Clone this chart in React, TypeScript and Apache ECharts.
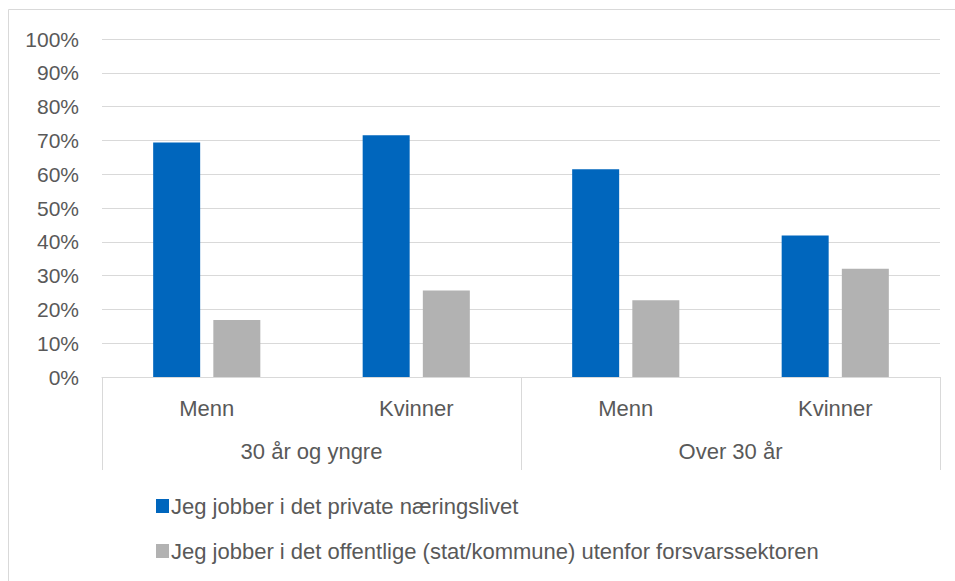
import React, { useEffect, useRef } from "react";
import * as echarts from "echarts";

const genders = ["Menn", "Kvinner", "Menn", "Kvinner"];
const ageGroups = ["30 år og yngre", "Over 30 år"];
const yTicks = [0, 10, 20, 30, 40, 50, 60, 70, 80, 90, 100];
const seriesNames = [
  "Jeg jobber i det private næringslivet",
  "Jeg jobber i det offentlige (stat/kommune) utenfor forsvarssektoren",
];
const privateValues = [69.4, 71.5, 61.5, 41.9];
const publicValues = [16.9, 25.6, 22.7, 32.0];

const FONT = "'Liberation Sans', Arial, sans-serif";
const TEXT = "#595959";
const LINE = "#d9d9d9";

export default function App() {
  const ref = useRef<HTMLDivElement>(null);
  useEffect(() => {
    if (!ref.current) return;
    const chart = echarts.init(ref.current, undefined, { renderer: "svg" });
    chart.setOption({
      animation: false,
      backgroundColor: "#ffffff",
      textStyle: { fontFamily: FONT, color: TEXT },
      graphic: [
        {
          type: "rect",
          shape: { x: 8.5, y: 9.5, width: 1200, height: 1200 },
          style: { fill: "none", stroke: LINE, lineWidth: 1 },
          silent: true,
        },
      ],
      grid: { left: 102, right: 15, top: 39, bottom: 204 },
      legend: {
        orient: "vertical",
        left: 151,
        top: 490,
        itemWidth: 13,
        itemHeight: 14,
        itemGap: 23,
        icon: "rect",
        data: seriesNames,
        textStyle: {
          fontFamily: FONT,
          fontSize: 22,
          color: TEXT,
          padding: [0, 0, 0, -3],
          lineHeight: 22,
        },
      },
      xAxis: [
        {
          type: "category",
          data: genders,
          position: "bottom",
          offset: 0,
          axisLine: { show: true, lineStyle: { color: LINE, width: 1 } },
          axisTick: { show: false },
          axisLabel: {
            interval: 0,
            margin: 20,
            fontFamily: FONT,
            fontSize: 22,
            color: TEXT,
          },
        },
        {
          type: "category",
          data: ageGroups,
          position: "bottom",
          offset: 0,
          axisLine: { show: false },
          axisTick: {
            show: true,
            length: 93,
            interval: 0,
            lineStyle: { color: LINE, width: 1 },
          },
          axisLabel: {
            interval: 0,
            margin: 63,
            fontFamily: FONT,
            fontSize: 22,
            color: TEXT,
          },
        },
      ],
      yAxis: {
        type: "value",
        min: 0,
        max: 100,
        interval: 10,
        axisLine: { show: false },
        axisTick: { show: false },
        splitLine: { lineStyle: { color: LINE, width: 1 } },
        axisLabel: {
          margin: 23,
          fontFamily: FONT,
          fontSize: 21,
          color: TEXT,
          formatter: (v: number) => (yTicks.includes(v) ? `${v}%` : ""),
        },
      },
      series: [
        {
          name: seriesNames[0],
          type: "bar",
          xAxisIndex: 0,
          data: privateValues,
          barWidth: 47,
          barGap: "28%",
          itemStyle: { color: "#0066bd" },
        },
        {
          name: seriesNames[1],
          type: "bar",
          xAxisIndex: 0,
          data: publicValues,
          barWidth: 47,
          barGap: "28%",
          itemStyle: { color: "#b2b2b2" },
        },
      ],
    });
    return () => chart.dispose();
  }, []);
  return (
    <div
      ref={ref}
      style={{ position: "absolute", left: 0, top: 0, width: 955, height: 581 }}
    />
  );
}
